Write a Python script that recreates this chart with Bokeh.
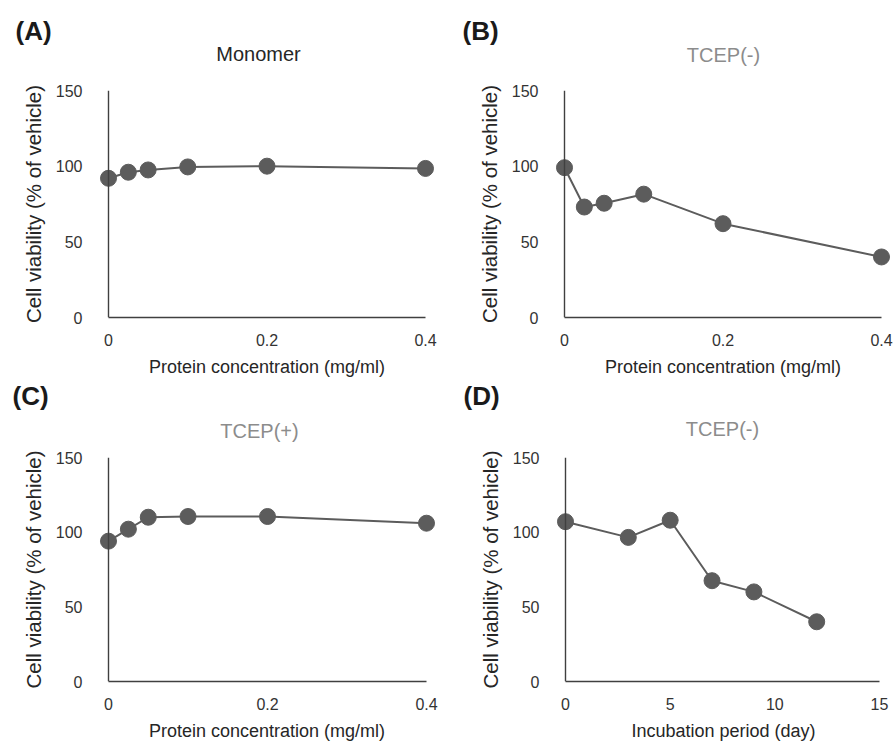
from bokeh.plotting import figure
from bokeh.models import Range1d, FixedTicker, Span, Label
from bokeh.layouts import column, row
from bokeh.embed import file_html
from bokeh.resources import INLINE

# ---------------- data ----------------
conc = [0, 0.025, 0.05, 0.1, 0.2, 0.4]
monomer = [92, 96, 97.5, 99.5, 100, 98.5]
tcep_minus = [99, 73, 75.5, 81.5, 62, 40]
tcep_plus = [94, 102, 110, 110.5, 110.5, 106]
days = [0, 3, 5, 7, 9, 12]
tcep_minus_time = [107, 96.5, 108, 67.5, 60, 40]

conc_ticks = [0, 0.2, 0.4]
conc_tick_labels = ["0", "0.2", "0.4"]
day_ticks = [0, 5, 10, 15]
day_tick_labels = ["0", "5", "10", "15"]
y_ticks = [0, 50, 100, 150]
y_tick_labels = ["0", "50", "100", "150"]

FONT = "Liberation Sans"
GREY = "#5c5c5c"
AXIS = "#404040"
DARK = "#262626"
LIGHT = "#8c8c8c"
W = 893


def make_header(height, items):
    """A strip above a row of panels holding the panel letters and titles."""
    h = figure(width=W, height=height, x_range=Range1d(0, W), y_range=Range1d(height, 0),
               output_backend="svg", toolbar_location=None, min_border=0,
               x_axis_type=None, y_axis_type=None, title=None)
    h.outline_line_color = None
    h.xgrid.visible = False
    h.ygrid.visible = False
    for text, x, y, align, size, style, color in items:
        h.add_layout(Label(x=x, y=y, text=text, text_align=align, text_baseline="middle",
                           text_font=FONT, text_font_size=size, text_font_style=style,
                           text_color=color))
    return h


def make_panel(width, height, border_top, border_bottom, frame_left, frame_right,
               x0_px, x1_px, xmin, xmax, xticks, xlabels, xs, ys, xlabel):
    scale = (xmax - xmin) / (x1_px - x0_px)
    start = xmin - (x0_px - frame_left) * scale
    end = xmax + (frame_right - x1_px) * scale
    p = figure(width=width, height=height, title=None,
               x_range=Range1d(start, end), y_range=Range1d(0, 150),
               output_backend="svg", toolbar_location=None,
               min_border_left=frame_left, min_border_right=width - frame_right,
               min_border_top=border_top, min_border_bottom=border_bottom)
    p.outline_line_color = None
    p.xgrid.visible = False
    p.ygrid.visible = False

    xa = p.xaxis[0]
    xa.ticker = FixedTicker(ticks=xticks)
    xa.major_label_overrides = dict(zip(xticks, xlabels))
    xa.bounds = (xmin, xmax)
    xa.axis_line_color = AXIS
    xa.axis_line_width = 1.4
    xa.major_tick_line_color = None
    xa.minor_tick_line_color = None
    xa.major_label_standoff = 10
    xa.major_label_text_font = FONT
    xa.major_label_text_font_size = "16px"
    xa.major_label_text_color = "#333333"
    xa.axis_label = xlabel
    xa.axis_label_standoff = 8
    xa.axis_label_text_font = FONT
    xa.axis_label_text_font_size = "18px"
    xa.axis_label_text_font_style = "normal"
    xa.axis_label_text_color = DARK

    ya = p.yaxis[0]
    ya.ticker = FixedTicker(ticks=y_ticks)
    ya.major_label_overrides = dict(zip(y_ticks, y_tick_labels))
    ya.axis_line_color = None
    ya.major_tick_line_color = None
    ya.minor_tick_line_color = None
    ya.major_label_standoff = 10
    ya.major_label_text_font = FONT
    ya.major_label_text_font_size = "16px"
    ya.major_label_text_color = "#333333"
    ya.axis_label = "Cell viability (% of vehicle)"
    ya.axis_label_standoff = 8
    ya.axis_label_text_font = FONT
    ya.axis_label_text_font_size = "20.5px"
    ya.axis_label_text_font_style = "normal"
    ya.axis_label_text_color = DARK

    p.add_layout(Span(location=xmin, dimension="height", line_color=AXIS, line_width=1.4))

    p.line(xs, ys, line_color=GREY, line_width=2)
    p.scatter(xs, ys, size=16, fill_color=GREY, line_color=GREY)
    return p


head1 = make_header(70, [
    ("(A)", 15, 30, "left", "26px", "bold", "#1a1a1a"),
    ("Monomer", 258, 53, "center", "20px", "normal", DARK),
    ("(B)", 462, 30, "left", "26px", "bold", "#1a1a1a"),
    ("TCEP(-)", 723, 54, "center", "20px", "normal", LIGHT),
])
pA = make_panel(446, 309, 20, 62, 98, 435, 108, 425, 0, 0.4, conc_ticks, conc_tick_labels,
                conc, monomer, "Protein concentration (mg/ml)")
pB = make_panel(447, 309, 20, 62, 108, 445, 118, 435, 0, 0.4, conc_ticks, conc_tick_labels,
                conc, tcep_minus, "Protein concentration (mg/ml)")

head2 = make_header(66, [
    ("(C)", 12, 16, "left", "26px", "bold", "#1a1a1a"),
    ("TCEP(+)", 259, 51, "center", "20px", "normal", LIGHT),
    ("(D)", 463, 16, "left", "26px", "bold", "#1a1a1a"),
    ("TCEP(-)", 722, 49, "center", "20px", "normal", LIGHT),
])
pC = make_panel(446, 298, 12, 61, 98, 435, 108, 426, 0, 0.4, conc_ticks, conc_tick_labels,
                conc, tcep_plus, "Protein concentration (mg/ml)")
pD = make_panel(447, 298, 12, 61, 109, 445, 119, 433, 0, 15, day_ticks, day_tick_labels,
                days, tcep_minus_time, "Incubation period (day)")

layout = column(head1, row(pA, pB), head2, row(pC, pD))
open("out.html", "w").write(file_html(layout, INLINE))
